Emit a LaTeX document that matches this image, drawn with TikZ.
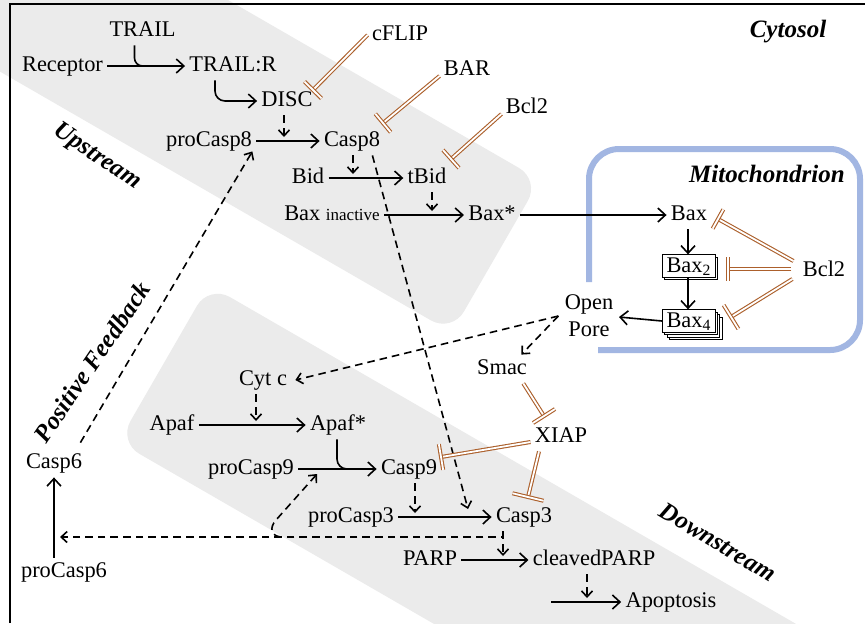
\documentclass[tikz,border=0pt]{standalone}
\usepackage{fontspec}
\setmainfont{Liberation Serif}
\usetikzlibrary{arrows.meta,calc,shadows}
\definecolor{inhcol}{RGB}{172,96,44}
\definecolor{bandgray}{RGB}{235,235,235}
\definecolor{mitoblue}{RGB}{162,182,226}
\newcommand\inhib[3]{%
  \draw[inhl] (#1) -- (#2);
  \draw[inhl] ($(#2)!#3!90:(#1)$) -- ($(#2)!#3!-90:(#1)$);}
\begin{document}
\begin{tikzpicture}[x=0.5pt,y=-0.5pt,
  every node/.style={font=\fontsize{11.2}{13.5}\selectfont, inner sep=2pt},
  sp/.style={text height=7.6pt, text depth=2.4pt},
  lbl/.style={font=\fontsize{12.5}{15}\selectfont\bfseries\itshape},
  arr/.style={line width=0.8pt, -{Straight Barb[length=3.8pt,width=7pt]}},
  darr/.style={line width=0.8pt, dash pattern=on 3.8pt off 2.5pt, -{Straight Barb[length=3pt,width=5.5pt]}},
  sline/.style={line width=0.8pt},
  inhl/.style={draw=inhcol, double=white, line width=0.55pt, double distance=0.9pt},
  baxbox/.style={draw, fill=white, line width=0.45pt, text height=7.6pt, text depth=1pt, inner xsep=2pt, inner ysep=1.3pt},
]
\useasboundingbox (0,0) rectangle (865,623);
\fill[white] (0,0) rectangle (865,623);
\begin{scope}
\clip (0,0) rectangle (865,623);
\begin{scope}[shift={(235,4)}, rotate=-30]
\fill[bandgray, rounded corners=12pt] (-700,0) rectangle (352,176);
\end{scope}
\begin{scope}[shift={(209,285)}, rotate=-30]
\fill[bandgray, rounded corners=12pt] (0,0) rectangle (1000,181);
\end{scope}
\end{scope}
% frame
\draw[line width=1.1pt] (10,623) -- (10,4) -- (865,4);
% mitochondrion
\draw[mitoblue, line width=3pt, rounded corners=15pt] (589,282) -- (589,149) -- (860,149) -- (860,350) -- (598,350);

% nodes
\node[sp] (TRAIL) at (142.5,31) {TRAIL};
\node[sp] (Rec) at (62.5,66) {Receptor};
\node[sp] (TR) at (233,66) {TRAIL:R};
\node[sp] (DISC) at (287,101) {DISC};
\node[sp] (pC8) at (209,141) {proCasp8};
\node[sp] (C8) at (352,141) {Casp8};
\node[sp] (Bid) at (308,178) {Bid};
\node[sp] (tBid) at (427,178) {tBid};
\node[sp] (Baxi) at (332,215) {Bax {\fontsize{8.5}{10}\selectfont inactive}};
\node[sp] (Baxs) at (492,215) {Bax*};
\node[sp] (Bax) at (689,215) {Bax};
\node[baxbox, copy shadow={shadow xshift=1.1pt,shadow yshift=-1.2pt}] (Bax2) at (689,266) {Bax\textsubscript{2}};
\node[baxbox, copy shadow={shadow xshift=3.3pt,shadow yshift=-3.6pt}, copy shadow={shadow xshift=2.2pt,shadow yshift=-2.4pt}, copy shadow={shadow xshift=1.1pt,shadow yshift=-1.2pt}] (Bax4) at (689,321) {Bax\textsubscript{4}};
\node[sp] (Bcl2m) at (824,271) {Bcl2};
\node[align=center] (Pore) at (589,316) {Open\\Pore};
\node[sp] (Smac) at (502,369) {Smac};
\node[sp] (XIAP) at (561,437) {XIAP};
\node[sp] (Cytc) at (263,380) {Cyt c};
\node[sp] (Apaf) at (172,425) {Apaf};
\node[sp] (Apafs) at (338,425) {Apaf*};
\node[sp] (pC9) at (251,469) {proCasp9};
\node[sp] (C9) at (409,469) {Casp9};
\node[sp] (pC3) at (351,517) {proCasp3};
\node[sp] (C3) at (524,517) {Casp3};
\node[sp] (PARP) at (430,560) {PARP};
\node[sp] (cPARP) at (594,560) {cleavedPARP};
\node[sp] (Apop) at (671,602) {Apoptosis};
\node[sp] (C6) at (54,463) {Casp6};
\node[sp] (pC6) at (64,572) {proCasp6};
\node[sp] (cFLIP) at (400,35) {cFLIP};
\node[sp] (BAR) at (467,70) {BAR};
\node[sp] (Bcl2t) at (527,108) {Bcl2};
\node[lbl] (cyto) at (788,32) {Cytosol};
\node[lbl] (mito) at (767,174) {Mitochondrion};
\node[lbl, rotate=-34] (up) at (97,157) {Upstream};
\node[lbl, rotate=56] (pf) at (92,362) {Positive Feedback};
\node[lbl, rotate=-31] (down) at (718,542) {Downstream};

% helper coordinates
\coordinate (tj) at (152,66);
\coordinate (poreR) at (619,317);
\coordinate (c3in) at (468,509);
\coordinate (a9j) at (352,469);
\coordinate (c9in) at (317,474);
\coordinate (hk) at (281,537);
\coordinate (c6in) at (60,537);
\coordinate (apS) at (551,602);

% solid reactions
\draw[arr] (Rec) -- (TR);
\draw[sline, rounded corners=4pt] ([xshift=-4pt]TRAIL.south) |- (tj);
\draw[arr, rounded corners=5pt] ([xshift=-9pt]TR.south) |- (DISC.west);
\draw[arr] (pC8) -- (C8);
\draw[arr] (Bid) -- (tBid);
\draw[arr] (Baxi) -- (Baxs);
\draw[arr] (Baxs) -- (Bax);
\draw[arr] ([xshift=-0.5pt]Bax.south) -- ([xshift=-0.5pt]Bax2.north);
\draw[arr] ([xshift=-0.5pt]Bax2.south) -- ([xshift=-0.5pt]Bax4.north);
\draw[arr] (Bax4.west) -- (poreR);
\draw[arr] (Apaf) -- (Apafs);
\draw[sline, rounded corners=5pt] ([xshift=-0.5pt]Apafs.south) |- (a9j);
\draw[arr] (pC9) -- (C9);
\draw[arr] (pC3) -- (C3);
\draw[arr] (PARP) -- (cPARP);
\draw[arr] (apS) -- (Apop);
\draw[arr] (pC6.north -| C6.south) -- (C6.south);

% catalysis (dashed)
\draw[darr, shorten >=2pt] ([xshift=-1.5pt]DISC.south) -- ([xshift=-1.5pt]DISC.south |- pC8);
\draw[darr, shorten >=2pt] ([xshift=0.5pt]C8.south) -- ([xshift=0.5pt]C8.south |- Bid);
\draw[darr, shorten >=2pt] ([xshift=2.5pt]tBid.south) -- ([xshift=2.5pt]tBid.south |- Baxi);
\draw[darr, shorten >=2pt] ([xshift=-3.5pt]Cytc.south) -- ([xshift=-3.5pt]Cytc.south |- Apaf);
\draw[darr, shorten >=2pt] ([xshift=3pt]C9.south) -- ([xshift=3pt]C9.south |- pC3);
\draw[darr, shorten >=2pt] ([xshift=-10.5pt]C3.south) -- ([xshift=-10.5pt]C3.south |- PARP);
\draw[darr, shorten >=2pt] ([xshift=-3.5pt]cPARP.south) -- ([xshift=-3.5pt]cPARP.south |- Apop);
\draw[darr] ([xshift=-6pt]C8.south east) -- (c3in);
\draw[darr] ([xshift=-3pt,yshift=3pt]C6.north east) -- ([xshift=-2pt,yshift=2pt]pC8.south east);
\draw[darr] ([xshift=-1pt]Pore.west) -- ([xshift=2pt]Cytc.east);
\draw[darr] ([xshift=-1pt]Pore.west) -- ([xshift=-5pt]Smac.north east);
\draw[darr] ([xshift=-10.5pt]C3.south) |- (c6in);
\draw[darr] (hk) .. controls (271,536) and (269,528) .. (276,520) -- (c9in);

% inhibitions
\coordinate (iDISC) at (313,90);
\coordinate (iC8) at (383,123);
\coordinate (itBid) at (451,159);
\coordinate (iBax) at (718,219);
\coordinate (iBax2) at (728,269);
\coordinate (iBax4) at (731,317);
\coordinate (iXIAP) at (544,416);
\coordinate (iC9) at (441,457);
\coordinate (iC3) at (528,497);
\inhib{cFLIP.west}{iDISC}{6pt}
\inhib{[yshift=-3pt]BAR.west}{iC8}{6pt}
\inhib{[yshift=-3pt]Bcl2t.west}{itBid}{6pt}
\inhib{[xshift=-2.5pt,yshift=5pt]Bcl2m.west}{iBax}{5.5pt}
\inhib{[xshift=-3.5pt,yshift=1pt]Bcl2m.west}{iBax2}{6pt}
\inhib{[xshift=-3pt,yshift=-4pt]Bcl2m.west}{iBax4}{7pt}
\inhib{[xshift=-4pt]Smac.south east}{iXIAP}{6.5pt}
\inhib{[yshift=-2.5pt]XIAP.west}{iC9}{6.5pt}
\inhib{[xshift=-11pt]XIAP.south}{iC3}{8pt}
\end{tikzpicture}
\end{document}
